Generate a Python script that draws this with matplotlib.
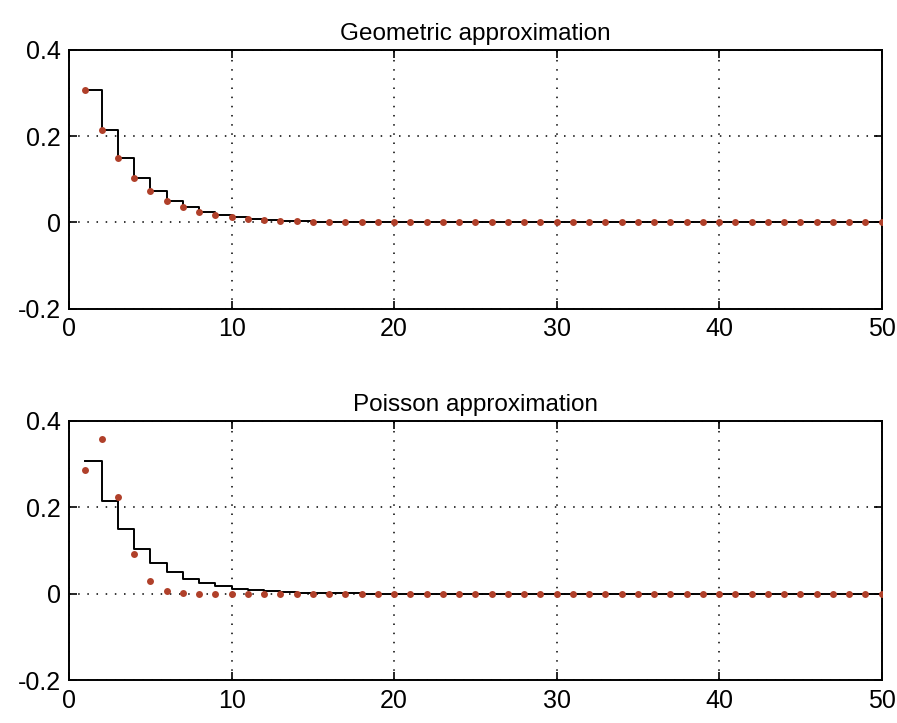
import matplotlib
matplotlib.use("Agg")
import matplotlib.pyplot as plt
import numpy as np

plt.rcParams['font.family'] = ['Liberation Sans', 'DejaVu Sans']

k = list(range(1, 51))
geometric = [0.308, 0.215, 0.150, 0.104, 0.072, 0.050, 0.035, 0.024, 0.017, 0.012,
             0.008, 0.006, 0.004, 0.003, 0.002, 0.001, 0.001] + [0.0] * 33
poisson = [0.287, 0.358, 0.224, 0.093, 0.029, 0.007, 0.002] + [0.0] * 43
titles = ["Geometric approximation", "Poisson approximation"]
xticks = [0, 10, 20, 30, 40, 50]
yticks = [-0.2, 0, 0.2, 0.4]
yticklabels = ["-0.2", "0", "0.2", "0.4"]

fig = plt.figure(figsize=(8.97, 7.23), dpi=100)
rects = [[0.077, 0.573, 0.906, 0.358], [0.077, 0.059, 0.906, 0.359]]
dot_color = "#b0402a"

for rect, title, dots in zip(rects, titles, [geometric, poisson]):
    ax = fig.add_axes(rect)
    ax.plot(k, geometric, drawstyle="steps-post", color="black", lw=1.4, zorder=3)
    ax.plot(k, dots, linestyle="none", marker="o", ms=5, color=dot_color,
            markeredgewidth=0, zorder=4)
    ax.set_xlim(0, 50)
    ax.set_ylim(-0.2, 0.4)
    ax.set_xticks(xticks)
    ax.set_yticks(yticks)
    ax.set_yticklabels(yticklabels)
    ax.grid(True, color="black", linestyle=(0, (1, 5)), linewidth=1.1)
    ax.tick_params(direction="in", top=True, right=True, length=6, width=1.2,
                   labelsize=18, pad=6)
    for s in ax.spines.values():
        s.set_linewidth(1.4)
    ax.set_title(title, fontsize=17.5, pad=7)

fig.savefig("out.png", dpi=100)
